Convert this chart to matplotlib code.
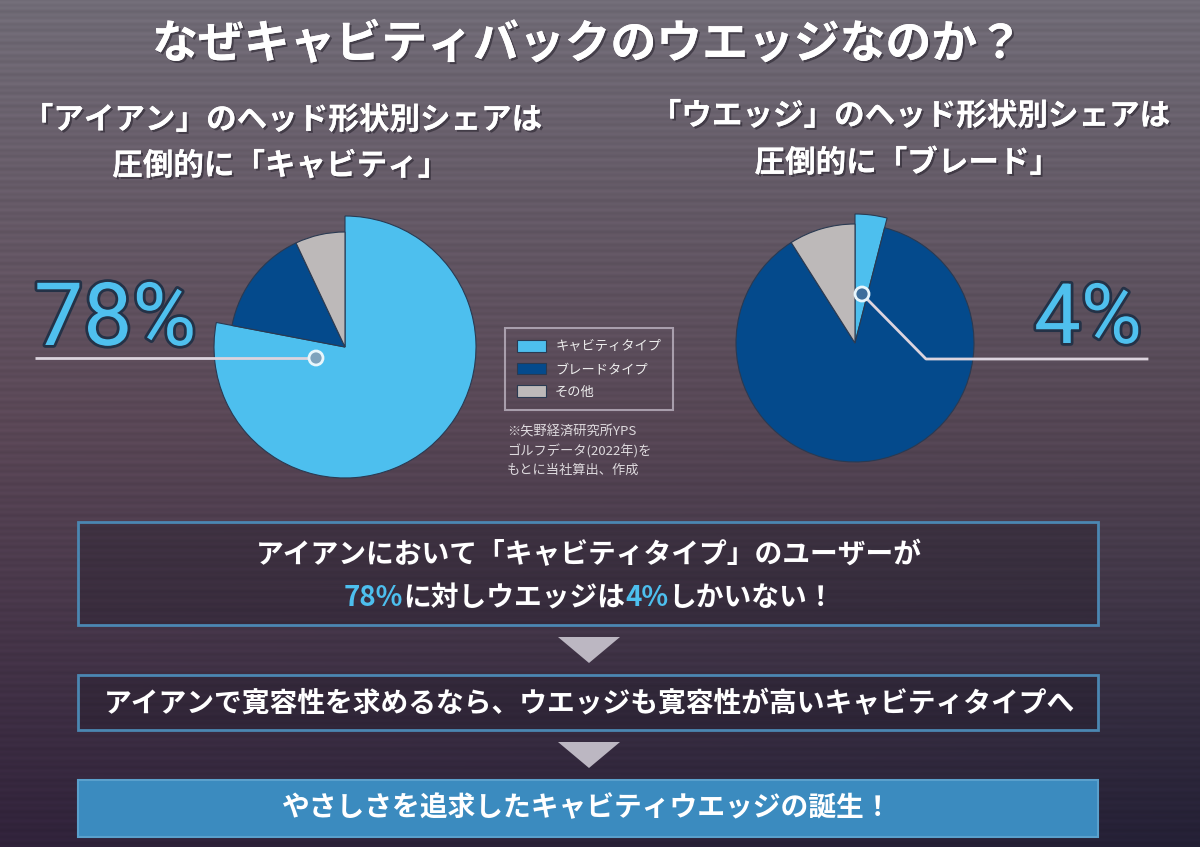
import numpy as np
import matplotlib
matplotlib.use('Agg')
import matplotlib.pyplot as plt
from matplotlib.patches import Rectangle, Polygon, Circle
import matplotlib.patheffects as pe

plt.rcParams['font.family'] = ['Noto Sans CJK JP', 'DejaVu Sans']

W, H = 1200, 847

# data
shape_labels = ['キャビティタイプ', 'ブレードタイプ', 'その他']
iron_share = [78, 15, 7]
wedge_share = [4, 87, 9]
pie_colors = ['#4dbfee', '#044a8c', '#bdb9b9']

title = 'なぜキャビティバックのウエッジなのか？'
sub_left = ['「アイアン」のヘッド形状別シェアは', '圧倒的に「キャビティ」']
sub_right = ['「ウエッジ」のヘッド形状別シェアは', '圧倒的に「ブレード」']
note = '※矢野経済研究所YPS\nゴルフデータ(2022年)を\nもとに当社算出、作成'
box1_line1 = 'アイアンにおいて「キャビティタイプ」のユーザーが'
box1_line2 = [('78%', '#4dbfee'), ('に対しウエッジは', 'white'), ('4%', '#4dbfee'), ('しかいない！', 'white')]
box2_text = 'アイアンで寛容性を求めるなら、ウエッジも寛容性が高いキャビティタイプへ'
box3_text = 'やさしさを追求したキャビティウエッジの誕生！'

fig = plt.figure(figsize=(12, 8.47), dpi=100)
ax = fig.add_axes([0, 0, 1, 1])

# background: gradient + horizontal stripes
yy = np.arange(H)[:, None] / H
xx = np.arange(W)[None, :] / W
top = np.array([0x70, 0x6b, 0x76]) / 255
mid = np.array([0x5a, 0x47, 0x56]) / 255
bot = np.array([0x30, 0x22, 0x3a]) / 255
t1 = np.clip(yy / 0.5, 0, 1)[..., None]
t2 = np.clip((yy - 0.5) / 0.5, 0, 1)[..., None]
bg = np.where(yy[..., None] < 0.5, top * (1 - t1) + mid * t1, mid * (1 - t2) + bot * t2)
bg = np.broadcast_to(bg, (H, W, 3)).copy()
# right side a bit darker toward the bottom
bg[..., 0] -= (0.05 * xx * yy)
bg[..., 1] -= (0.01 * xx * yy)
bg[..., 2] -= (0.02 * xx * yy)
rows = np.arange(H)[:, None, None]
stripes = 1 + 0.03 * np.sin(rows * 2 * np.pi / 6.3) + 0.02 * np.sin(rows * 2 * np.pi / 15.7)
bg = np.clip(bg * stripes, 0, 1)
ax.imshow(bg[::-1], extent=[0, W, 0, H], origin='lower', zorder=0, aspect='auto')

# pies
lw, _ = ax.pie(iron_share, colors=pie_colors, startangle=90, counterclock=False,
               center=(345, H - 347), radius=115,
               wedgeprops=dict(edgecolor='#2a3a52', linewidth=0.8))
lw[0].set_radius(131)
rw, _ = ax.pie(wedge_share, colors=pie_colors, startangle=90, counterclock=False,
               center=(855, H - 343), radius=119,
               wedgeprops=dict(edgecolor='#2a3a52', linewidth=0.8))
rw[0].set_radius(129)

line_c = '#dcd4de'
# left connector
ax.plot([35, 309], [H - 358, H - 358], color=line_c, lw=2, zorder=5, solid_capstyle='butt')
ax.add_patch(Circle((316, H - 358), 7, facecolor='#7fa3bd', edgecolor='#e8f6fc', lw=2, zorder=6))
# right connector
ax.plot([867, 926, 1147], [H - 299, H - 359, H - 359], color=line_c, lw=2, zorder=5)
ax.add_patch(Circle((862, H - 294), 7, facecolor='#3d6e9c', edgecolor='#e8f6fc', lw=2, zorder=6))

glow = [pe.withStroke(linewidth=4, foreground='#243247')]
ax.text(34, H - 345, '78%', fontsize=63, color='#4fc0ee', family='Roboto',
        ha='left', va='baseline', zorder=7, path_effects=glow)
ax.text(1034, H - 343, '4%', fontsize=60, color='#4fc0ee', family='Roboto',
        ha='left', va='baseline', zorder=7, path_effects=glow)

# titles
shadow = [pe.withSimplePatchShadow(offset=(1.5, -1.5), shadow_rgbFace='#2a2530', alpha=0.6), pe.Normal()]
ax.text(588, H - 45, title, fontsize=33, weight='bold', color='white',
        ha='center', va='center', path_effects=shadow)
ax.text(282, H - 120, sub_left[0], fontsize=22, weight='bold', color='white', ha='center', va='center', path_effects=shadow)
ax.text(280, H - 166, sub_left[1], fontsize=22, weight='bold', color='white', ha='center', va='center', path_effects=shadow)
ax.text(910, H - 116, sub_right[0], fontsize=22, weight='bold', color='white', ha='center', va='center', path_effects=shadow)
ax.text(907, H - 163, sub_right[1], fontsize=22, weight='bold', color='white', ha='center', va='center', path_effects=shadow)

# legend
leg = ax.legend(lw, shape_labels, loc='upper left', bbox_to_anchor=(505, H - 328),
                bbox_transform=ax.transData, borderaxespad=0, fontsize=9.5,
                frameon=True, fancybox=False, edgecolor='#bdb4c2', facecolor='none',
                labelcolor='#eeeeee', handlelength=2.2, handleheight=1.0,
                borderpad=0.9, labelspacing=0.7, handletextpad=0.7)
leg.get_frame().set_linewidth(1.5)
ax.text(507, H - 425, note, fontsize=9.5, color='#dedade', ha='left', va='top', linespacing=1.55)

# flow boxes
box_edge = '#4b87b2'
ax.add_patch(Rectangle((78, H - 625), 1020, 103, facecolor='#1c1724', alpha=0.3, edgecolor='none', zorder=1))
ax.add_patch(Rectangle((78, H - 625), 1020, 103, facecolor='none', edgecolor=box_edge, lw=2, zorder=2))
ax.add_patch(Rectangle((78, H - 730), 1020, 55, facecolor='#1c1724', alpha=0.3, edgecolor='none', zorder=1))
ax.add_patch(Rectangle((78, H - 730), 1020, 55, facecolor='none', edgecolor=box_edge, lw=2, zorder=2))
ax.add_patch(Rectangle((78, H - 837), 1020, 57, facecolor='#3b8bbf', edgecolor='#5aa0cc', lw=1.5, zorder=2))

for y0 in (637, 742):
    ax.add_patch(Polygon([(558, H - y0), (620, H - y0), (589, H - y0 - 26)], closed=True,
                         facecolor='#bcb7c2', edgecolor='none', zorder=2))

ax.text(589, H - 555, box1_line1, fontsize=20, weight='bold', color='white', ha='center', va='center', zorder=3)

# second line with coloured numbers
r = fig.canvas.get_renderer()
parts = []
for s, c in box1_line2:
    parts.append(ax.text(0, H - 598, s, fontsize=20, weight='bold', color=c, ha='left', va='center', zorder=3))
widths = [p.get_window_extent(r).width for p in parts]
x = 589 - sum(widths) / 2
for p, w in zip(parts, widths):
    p.set_x(x)
    x += w

ax.text(589, H - 704, box2_text, fontsize=20, weight='bold', color='white', ha='center', va='center', zorder=3)
ax.text(587, H - 808, box3_text, fontsize=20, weight='bold', color='white', ha='center', va='center', zorder=3)

ax.set_xlim(0, W)
ax.set_ylim(0, H)
ax.set_axis_off()
fig.savefig('out.png', dpi=100)
